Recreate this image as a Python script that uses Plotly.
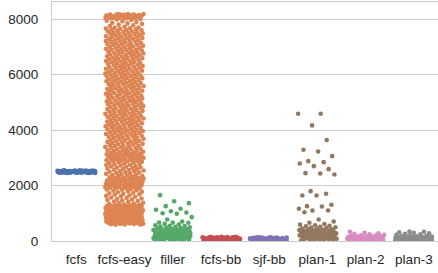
import numpy as np
import plotly.graph_objects as go

categories = ["fcfs", "fcfs-easy", "filler", "fcfs-bb", "sjf-bb", "plan-1", "plan-2", "plan-3"]
colors = ["#4C72B0", "#DD8452", "#55A868", "#C44E52", "#8172B3", "#937860", "#DA8BC3", "#8C8C8C"]
y_ticks = [0, 2000, 4000, 6000, 8000]

fcfs = [2502, 2482, 2518, 2468, 2535, 2494, 2511, 2476, 2527, 2488, 2545, 2462, 2505, 2515, 2479, 2495,
        2532, 2471, 2521, 2489, 2508, 2455, 2541, 2483, 2498, 2524, 2474, 2512, 2492, 2529, 2465, 2503,
        2517, 2480, 2536, 2486, 2509, 2470, 2522, 2497, 2514, 2477, 2530, 2491, 2548, 2459, 2500, 2520,
        2473, 2506, 2485, 2526, 2467, 2539, 2494, 2512, 2479, 2517, 2488, 2533, 2464, 2505, 2521, 2482,
        2499, 2528, 2471, 2509, 2489, 2542, 2457, 2515, 2477, 2524, 2495, 2503, 2483, 2538, 2461, 2511]

fcfs_easy = [
    585, 592, 598, 603, 611, 616, 624, 629, 637, 641, 648, 656, 661, 667, 675, 680, 688, 693, 699, 707,
    712, 719, 726, 731, 739, 744, 750, 758, 763, 771, 776, 782, 790, 795, 803, 808, 814, 822, 827, 834,
    841, 846, 853, 859, 866, 872, 878, 885, 891, 897, 904, 910, 917, 923, 929, 936, 942, 948, 955, 961,
    968, 974, 980, 987, 993, 999, 1006, 1012, 1019, 1025, 1031, 1038, 1044, 1050, 1057, 1063, 1070, 1076,
    1082, 1089, 1095, 1101, 1108, 1114, 1121, 1127, 1133, 1140, 1146, 1152, 1159, 1165, 1172, 1178, 1184,
    1191, 1197, 1203, 1210, 1216, 1223, 1229, 1235, 1242, 1248, 1254, 1261, 1267, 1274, 1280, 1288, 1295,
    1312, 1331, 1347, 1369, 1382, 1408, 1426, 1439, 1462, 1481, 1497, 1518, 1532, 1556, 1571, 1594, 1609,
    1628, 1651, 1667, 1683, 1706, 1722, 1741, 1759, 1777, 1796, 1813, 1829, 1846, 1861, 1877, 1892,
    1904, 1913, 1921, 1932, 1940, 1949, 1958, 1967, 1975, 1986, 1994, 2003, 2011, 2020, 2031, 2039, 2048,
    2057, 2066, 2074, 2085, 2093, 2102, 2110, 2119, 2130, 2138, 2147, 2156, 2165, 2173, 2184, 2192, 2201,
    2209, 2218, 2229, 2237, 2246, 2255, 2264, 2272, 2283, 2291,
    2303, 2317, 2334, 2348, 2361, 2379, 2392, 2408, 2423, 2437, 2454, 2468, 2481, 2499, 2513, 2527, 2544,
    2558, 2571, 2589, 2603, 2617, 2634, 2648, 2661, 2679, 2693, 2707, 2724, 2738, 2751, 2769, 2783, 2797,
    2814, 2828, 2841, 2859, 2873, 2887,
    2898, 2907, 2918, 2927, 2939, 2948, 2957, 2969, 2978, 2988, 2999, 3008, 3019, 3028, 3037, 3049, 3058,
    3068, 3079, 3088, 3099, 3108, 3117, 3129, 3138, 3148, 3159, 3168, 3179, 3189,
    3203, 3216, 3231, 3244, 3258, 3272, 3285, 3299, 3313, 3327, 3340, 3354, 3369, 3382, 3396, 3409, 3424,
    3437, 3451, 3465, 3478, 3492, 3506, 3520, 3533, 3547, 3561, 3575, 3589, 3602, 3616, 3630, 3644, 3657,
    3671, 3686,
    3705, 3717, 3731, 3744, 3759, 3770, 3784, 3796, 3809, 3824, 3837, 3849, 3863, 3876, 3891,
    3903, 3915, 3929, 3942, 3957, 3968, 3982, 3994, 4007, 4022, 4035, 4047, 4061, 4074, 4089,
    4101, 4113, 4127, 4140, 4155, 4166, 4180, 4192, 4205, 4220, 4233, 4245, 4259, 4272, 4287,
    4299, 4311, 4325, 4338, 4353, 4364, 4378, 4390, 4403, 4418, 4431, 4443, 4457, 4470, 4485,
    4497, 4509, 4523, 4536, 4551, 4562, 4576, 4588, 4601, 4616, 4629, 4641, 4655, 4668, 4683,
    4695, 4707, 4721, 4734, 4749, 4760, 4774, 4786, 4799, 4814, 4827, 4839, 4853, 4866, 4881,
    4893, 4905, 4919, 4932, 4947, 4958, 4972, 4984, 4997, 5012, 5025, 5037, 5051, 5064, 5079,
    5091, 5103, 5117, 5130, 5145, 5156, 5170, 5182, 5195, 5210, 5223, 5235, 5249, 5262, 5277,
    5289, 5301, 5315, 5328, 5343, 5354, 5368, 5380, 5393, 5408, 5421, 5433, 5447, 5460, 5475,
    5487, 5499, 5513, 5526, 5541, 5552, 5566, 5578, 5591, 5606, 5619, 5631, 5645, 5658, 5673,
    5685, 5697, 5711, 5724, 5739, 5750, 5764, 5776, 5789, 5804, 5817, 5829, 5843, 5856, 5871,
    5883, 5895, 5909, 5922, 5937, 5948, 5962, 5974, 5987, 6002, 6015, 6027, 6041, 6054, 6069,
    6081, 6093, 6107, 6120, 6135, 6146, 6160, 6172, 6185, 6200, 6213, 6225, 6239, 6252, 6267,
    6279, 6291, 6305, 6318, 6333, 6344, 6358, 6370, 6383, 6398, 6411, 6423, 6437, 6450, 6465,
    6477, 6489, 6503, 6516, 6531, 6542, 6556, 6568, 6581, 6596, 6609, 6621, 6635, 6648, 6663,
    6675, 6687, 6701, 6714, 6729, 6740, 6754, 6766, 6779, 6794, 6807, 6819, 6833, 6846, 6861,
    6873, 6885, 6899, 6912, 6927, 6938, 6952, 6964, 6977, 6992, 7005, 7017, 7031, 7044, 7059,
    7071, 7083, 7097, 7110, 7125, 7136, 7150, 7162, 7175, 7190, 7203, 7215, 7229, 7242, 7257,
    7269, 7281, 7295, 7308, 7323, 7334, 7348, 7360, 7373, 7388, 7401, 7413, 7427, 7440, 7455,
    7467, 7479, 7493, 7506, 7521, 7532, 7546, 7558, 7571, 7586, 7599, 7611, 7625, 7638, 7653,
    7665, 7677, 7691, 7704,
    7731, 7758, 7779, 7806, 7834, 7851, 7877, 7902, 7929, 7948, 7973, 7991, 8012, 8028,
    8041, 8047, 8053, 8058, 8064, 8071, 8076, 8082, 8089, 8095, 8101, 8106, 8113, 8119, 8124, 8131,
    8137, 8142, 8149, 8154, 8160, 8167, 8172, 8178, 8185, 8190, 8044, 8098, 8152, 8118, 8069, 8176]

filler = [3, 12, 20, 29, 37, 46, 55, 63, 71, 80, 89, 98, 106, 114, 123, 132, 140, 149, 158, 166, 175,
          183, 192, 201, 209, 218, 226, 235, 244, 252, 261, 270, 278, 287, 296, 304, 313, 321, 330, 339,
          347, 356, 365, 373, 382, 391, 399, 408, 417, 428, 441, 452, 466, 479, 493, 508, 521, 537, 552,
          571, 598, 617, 657, 662, 668, 704, 776, 860, 982, 1004, 1029, 1076, 1127, 1163, 1257, 1365,
          1437, 1654]

fcfs_bb = [2, 6, 11, 15, 19, 24, 28, 33, 37, 41, 46, 50, 55, 59, 63, 68, 72, 77, 81, 85, 90, 94, 99,
           103, 107, 112, 116, 121, 125, 129, 134, 138, 142, 146, 150, 153, 9, 31, 57, 88, 118, 144]

sjf_bb = [1, 5, 9, 13, 17, 21, 25, 29, 33, 37, 41, 45, 49, 53, 57, 61, 65, 69, 73, 77, 81, 85, 89, 93,
          97, 101, 105, 109, 113, 117, 121, 125, 128, 131, 134, 16, 48, 79, 110, 132]

plan_1 = [4, 13, 22, 31, 40, 49, 58, 67, 76, 85, 94, 103, 112, 121, 130, 139, 148, 157, 166, 175, 184,
          193, 202, 211, 220, 229, 238, 247, 256, 265, 274, 283, 292, 301, 310, 319, 328, 337, 346, 355,
          364, 373, 382, 391, 400, 412, 425, 438, 452, 467, 481, 496, 512, 529, 548, 566, 590, 612, 657,
          704, 776, 1040, 1101, 1101, 1163, 1246, 1257, 1307, 1643, 1643, 1705, 1798, 2402, 2438, 2449,
          2593, 2701, 2799, 2846, 2882, 3062, 3232, 3294, 3640, 4171, 4594, 4594]

plan_2 = [2, 8, 13, 19, 24, 30, 35, 41, 46, 52, 57, 63, 68, 74, 79, 85, 90, 96, 101, 107, 112, 118, 123,
          129, 134, 140, 145, 151, 156, 162, 167, 173, 178, 185, 196, 210, 228, 246, 262, 281, 298, 334]

plan_3 = [3, 9, 14, 20, 25, 31, 36, 42, 47, 53, 58, 64, 69, 75, 80, 86, 91, 97, 102, 108, 113, 119, 124,
          130, 135, 141, 146, 152, 157, 163, 168, 176, 189, 204, 221, 239, 262, 278, 298, 312, 334, 340]

series = [fcfs, fcfs_easy, filler, fcfs_bb, sjf_bb, plan_1, plan_2, plan_3]

JITTER = 0.40
GOLD = 0.6180339887

fig = go.Figure()
for i, (cat, vals, col) in enumerate(zip(categories, series, colors)):
    k = np.arange(len(vals))
    # strip-plot jitter: low-discrepancy sequence with a tiny deterministic wobble
    wobble = ((k * k * 0.7548776662) % 1.0 - 0.5) * 0.035
    offs = ((k * GOLD + 0.29 * i + wobble) % 1.0 - 0.5) * 2 * JITTER
    fig.add_trace(go.Scatter(
        x=i + offs, y=vals, mode="markers", name=cat, showlegend=False,
        marker=dict(size=4.6, color=col, line=dict(width=0)), hoverinfo="skip"))

fig.update_layout(
    width=438, height=273,
    margin=dict(l=52, r=0, t=2, b=32),
    plot_bgcolor="white", paper_bgcolor="white",
    font=dict(family="Liberation Sans, Arial, sans-serif", size=13.5, color="#262626"),
    showlegend=False,
)
fig.update_xaxes(range=[-0.5, 7.5], tickmode="array", tickvals=list(range(len(categories))),
                 ticktext=categories, showgrid=False, zeroline=False, showline=True,
                 linecolor="#cccccc", linewidth=1.25, mirror=True, ticks="", ticklabelstandoff=6)
fig.update_yaxes(range=[0, 8624], tickmode="array", tickvals=y_ticks, showgrid=True,
                 gridcolor="#cccccc", gridwidth=1, zeroline=False, showline=True,
                 linecolor="#cccccc", linewidth=1.25, ticks="", ticklabelstandoff=10)

fig.write_html("out.html", config={"displayModeBar": False},
               post_script="document.body.style.margin='0';")
